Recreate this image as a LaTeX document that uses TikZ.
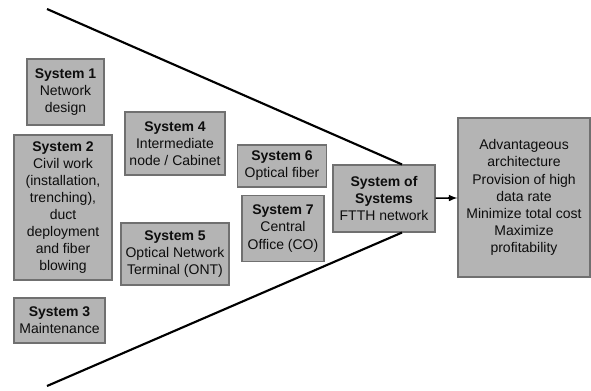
\documentclass[tikz,border=0pt]{standalone}
\usepackage{fontspec}
\setmainfont{Liberation Sans}
\definecolor{boxfill}{RGB}{180,180,180}
\definecolor{boxline}{RGB}{112,112,112}
\tikzset{
  sysbox/.style={draw=boxline,fill=boxfill,line width=0.8pt,align=center,inner sep=0pt,
    font=\fontsize{10.5}{12.8}\selectfont,text=black!95},
}
\begin{document}
\begin{tikzpicture}[x=0.75pt,y=-0.75pt]
\useasboundingbox (0,0) rectangle (591,390);
\node[sysbox,minimum width=57.75pt,minimum height=49.5pt] (s1) at (65.5,92) {\textbf{System 1}\\Network\\design};
\node[sysbox,minimum width=73.5pt,minimum height=108.75pt] (s2) at (63,207.5) {\textbf{System 2}\\Civil work\\(installation,\\trenching),\\duct\\deployment\\and fiber\\blowing};
\node[sysbox,minimum width=68.25pt,minimum height=33.75pt] (s3) at (59.5,320.5) {\textbf{System 3}\\Maintenance};
\node[sysbox,minimum width=75pt,minimum height=47.25pt] (s4) at (175,143.5) {\textbf{System 4}\\Intermediate\\node / Cabinet};
\node[sysbox,minimum width=81pt,minimum height=46.5pt] (s5) at (175,254) {\textbf{System 5}\\Optical Network\\Terminal (ONT)};
\node[sysbox,minimum width=66.75pt,minimum height=31.5pt] (s6) at (282,166) {\textbf{System 6}\\Optical fiber};
\node[sysbox,minimum width=61.5pt,minimum height=49.5pt] (s7) at (283,228.5) {\textbf{System 7}\\Central\\Office (CO)};
\node[sysbox,minimum width=76.5pt,minimum height=50.25pt] (sos) at (384,198.5) {\textbf{System of}\\\textbf{Systems}\\FTTH network};
\node[sysbox,minimum width=99pt,minimum height=119.25pt] (res) at (524,197.5) {Advantageous\\architecture\\Provision of high\\data rate\\Minimize total cost\\Maximize\\profitability};
% funnel
\coordinate (ftop) at (47,9);
\coordinate (fbot) at (47,386);
\draw[line width=1.6pt] (ftop) -- ([xshift=13.5pt]sos.north);
\draw[line width=1.6pt] (fbot) -- ([xshift=13.5pt]sos.south);
\draw[line width=1.2pt,-latex] (sos) -- (res);
\end{tikzpicture}
\end{document}
